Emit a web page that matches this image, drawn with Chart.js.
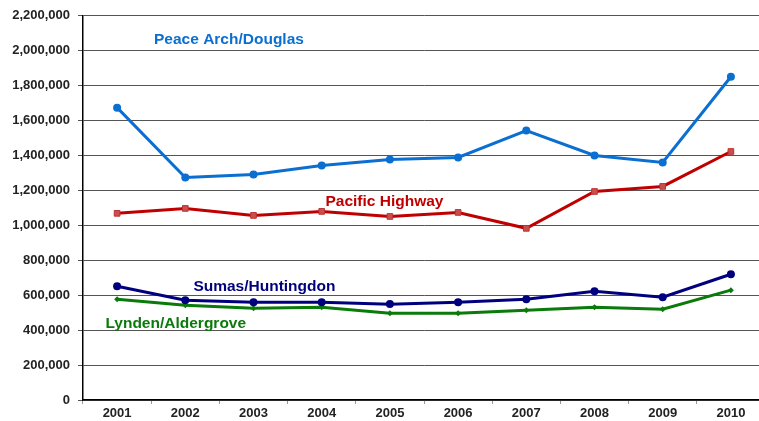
<!DOCTYPE html>
<html>
<head>
<meta charset="utf-8">
<script src="https://cdn.jsdelivr.net/npm/chart.js@4/dist/chart.umd.min.js"></script>
<style>
  html, body { margin: 0; padding: 0; background: #fff; overflow: hidden; }
  #wrap { width: 770px; height: 421px; }
</style>
</head>
<body>
<div id="wrap"><canvas id="c" width="770" height="421"></canvas></div>
<script>
// 年
const years = ['2001', '2002', '2003', '2004', '2005', '2006', '2007', '2008', '2009', '2010'];

// 各国境の通過台数
const peaceArch = [1674000, 1274000, 1291000, 1343000, 1377000, 1389000, 1543000, 1400000, 1360000, 1851000];
const pacificHwy = [1069000, 1097000, 1057000, 1080000, 1051000, 1074000, 983000, 1194000, 1223000, 1423000];
const sumas = [651000, 571000, 560000, 560000, 549000, 560000, 577000, 623000, 589000, 720000];
const lynden = [577000, 543000, 526000, 531000, 497000, 497000, 514000, 531000, 520000, 629000];

// 系列名ラベル (カテゴリ位置, 値)
const seriesLabels = [
    { text: 'Peace Arch/Douglas', x: 1.64, y: 2065000, color: '#0a6fd0' },
    { text: 'Pacific Highway', x: 3.92, y: 1134000, color: '#c00000' },
    { text: 'Sumas/Huntingdon', x: 2.16, y: 649000, color: '#00007f' },
    { text: 'Lynden/Aldergrove', x: 0.86, y: 438000, color: '#0a7a0a' }
];

const labelPlugin = {
    id: 'seriesLabels',
    afterDatasetsDraw(chart) {
        const ctx = chart.ctx;
        const xs = chart.scales.x, ys = chart.scales.y;
        ctx.save();
        ctx.font = 'bold 15.5px "Liberation Sans", Arial, sans-serif';
        ctx.textAlign = 'center';
        ctx.textBaseline = 'middle';
        seriesLabels.forEach(l => {
            ctx.fillStyle = l.color;
            ctx.fillText(l.text, xs.getPixelForValue(l.x), ys.getPixelForValue(l.y));
        });
        ctx.restore();
    }
};

const font = { family: '"Liberation Sans", Arial, sans-serif', size: 13, weight: 'bold' };

new Chart(document.getElementById('c').getContext('2d'), {
    type: 'line',
    data: {
        labels: years,
        datasets: [
            {
                label: 'Peace Arch/Douglas', data: peaceArch,
                borderColor: '#0a6fd0', backgroundColor: '#0a6fd0',
                borderWidth: 3, pointStyle: 'circle', pointRadius: 4, pointBorderWidth: 0, fill: false
            },
            {
                label: 'Pacific Highway', data: pacificHwy,
                borderColor: '#c00000', backgroundColor: '#c65050',
                pointBorderColor: '#c03030', pointBorderWidth: 1,
                borderWidth: 3, pointStyle: 'rect', pointRadius: 4, fill: false
            },
            {
                label: 'Sumas/Huntingdon', data: sumas,
                borderColor: '#00007f', backgroundColor: '#00007f',
                borderWidth: 3, pointStyle: 'circle', pointRadius: 4, pointBorderWidth: 0, fill: false
            },
            {
                label: 'Lynden/Aldergrove', data: lynden,
                borderColor: '#0a7a0a', backgroundColor: '#0a7a0a',
                borderWidth: 3, pointStyle: 'rectRot', pointRadius: 3, pointBorderWidth: 0, fill: false
            }
        ]
    },
    options: {
        responsive: false,
        animation: false,
        layout: { padding: { top: 15, right: 4, bottom: 0, left: 0 } },
        plugins: { legend: { display: false }, tooltip: { enabled: false } },
        scales: {
            x: {
                offset: true,
                grid: { drawOnChartArea: false, drawTicks: true, tickLength: 4, color: '#999', offset: true },
                border: { color: '#000', width: 1.5 },
                ticks: { font: font, color: '#222', padding: 2, maxRotation: 0 },
                afterFit(s) { s.height = 21; }
            },
            y: {
                min: 0, max: 2200000,
                grid: { color: '#555', tickLength: 5, drawTicks: true },
                border: { color: '#000', width: 1.5 },
                ticks: {
                    stepSize: 200000, font: font, color: '#222', padding: 8,
                    callback: v => v.toLocaleString('en-US')
                },
                afterFit(s) { s.width = 83; }
            }
        }
    },
    plugins: [labelPlugin]
});
</script>
</body>
</html>
